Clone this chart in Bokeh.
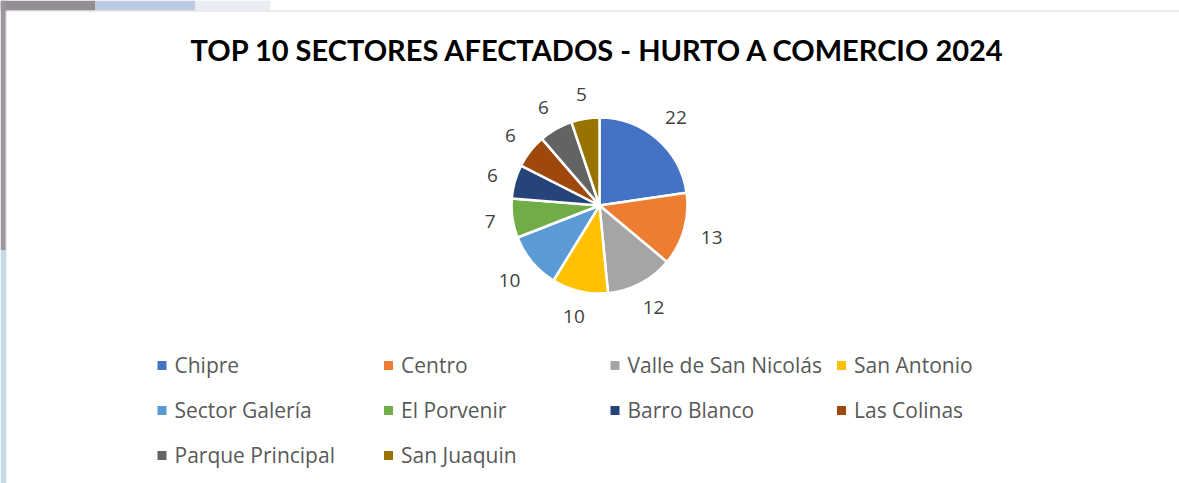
import math
from bokeh.plotting import figure
from bokeh.models import Range1d, ColumnDataSource
from bokeh.core.properties import value
from bokeh.embed import file_html
from bokeh.resources import INLINE

title_text = "TOP 10 SECTORES AFECTADOS - HURTO A COMERCIO 2024"
sectors = ["Chipre", "Centro", "Valle de San Nicolás", "San Antonio",
           "Sector Galería", "El Porvenir", "Barro Blanco", "Las Colinas",
           "Parque Principal", "San Juaquin"]
counts = [22, 13, 12, 10, 10, 7, 6, 6, 6, 5]
colors = ["#4472C4", "#ED7D31", "#A5A5A5", "#FFC000", "#5B9BD5",
          "#70AD47", "#264478", "#9E480E", "#636363", "#997300"]

PAGE_H = 483
def sy(y):
    return PAGE_H - y

p = figure(width=1179, height=483, x_range=Range1d(0, 1179), y_range=Range1d(0, 483),
           output_backend="svg", toolbar_location=None, min_border=0,
           x_axis_location=None, y_axis_location=None)
p.grid.visible = False
p.outline_line_color = None
p.background_fill_color = "white"
p.border_fill_color = "white"

# background photo strips around the chart area
p.quad(left=[0, 95, 195, 0, 0], right=[95, 195, 270, 5.5, 5.5],
       top=[sy(0), sy(0), sy(0), sy(0), sy(250)],
       bottom=[sy(10), sy(10), sy(10), sy(250), sy(483)],
       fill_color=["#938e94", "#bccbdf", "#e8eef3", "#9a969b", "#c4dce8"], line_color=None)

# border lines of chart area
p.segment(x0=[5.5, 5.5], y0=[sy(10.5), sy(10.5)], x1=[1179, 5.5], y1=[sy(10.5), sy(483)],
          line_color="#d9d9d9", line_width=1)

# title
p.text(x=[598], y=[sy(48.5)], text=[title_text], text_font=value("Lato"),
       text_font_style="bold", text_font_size="29px", text_color="#000000",
       text_align="center", text_baseline="middle")

# pie
cx, cy, R = 599, sy(205), 88
total = sum(counts)
starts, ends, lx, ly, labels = [], [], [], [], []
cum = 0
for v in counts:
    a0 = math.pi / 2 - 2 * math.pi * (cum + v) / total
    a1 = math.pi / 2 - 2 * math.pi * cum / total
    starts.append(a0)
    ends.append(a1)
    th = math.pi / 2 - 2 * math.pi * (cum + v / 2) / total
    dx, dy = math.cos(th), math.sin(th)
    w = 11 * len(str(v))
    d = 104 + abs(dx) * w / 2 + abs(dy) * 7.5
    lx.append(cx + d * dx)
    ly.append(cy + d * dy)
    labels.append(str(v))
    cum += v

src = ColumnDataSource(dict(start=starts, end=ends, color=colors))
p.wedge(x=cx, y=cy, radius=R, radius_units="screen", start_angle="start", end_angle="end",
        fill_color="color", line_color="white", line_width=2.5, source=src)

p.text(x=lx, y=ly, text=labels, text_font=value("Open Sans"), text_font_size="19px",
       text_color="#404040", text_align="center", text_baseline="middle")

# legend
mx, my, tx, ty = [], [], [], []
for i, name in enumerate(sectors):
    col, row = i % 4, i // 4
    x = 161.5 + col * 226.5
    y = 365 + row * 45
    mx.append(x)
    my.append(sy(y))
    tx.append(x + 12.5)
    ty.append(sy(y - 0.5))
p.scatter(x=mx, y=my, marker="square", size=9, fill_color=colors, line_color=None)
p.text(x=tx, y=ty, text=sectors, text_font=value("Open Sans"), text_font_size="21px",
       text_color="#595959", text_align="left", text_baseline="middle")

open("out.html", "w").write(file_html(p, INLINE))
